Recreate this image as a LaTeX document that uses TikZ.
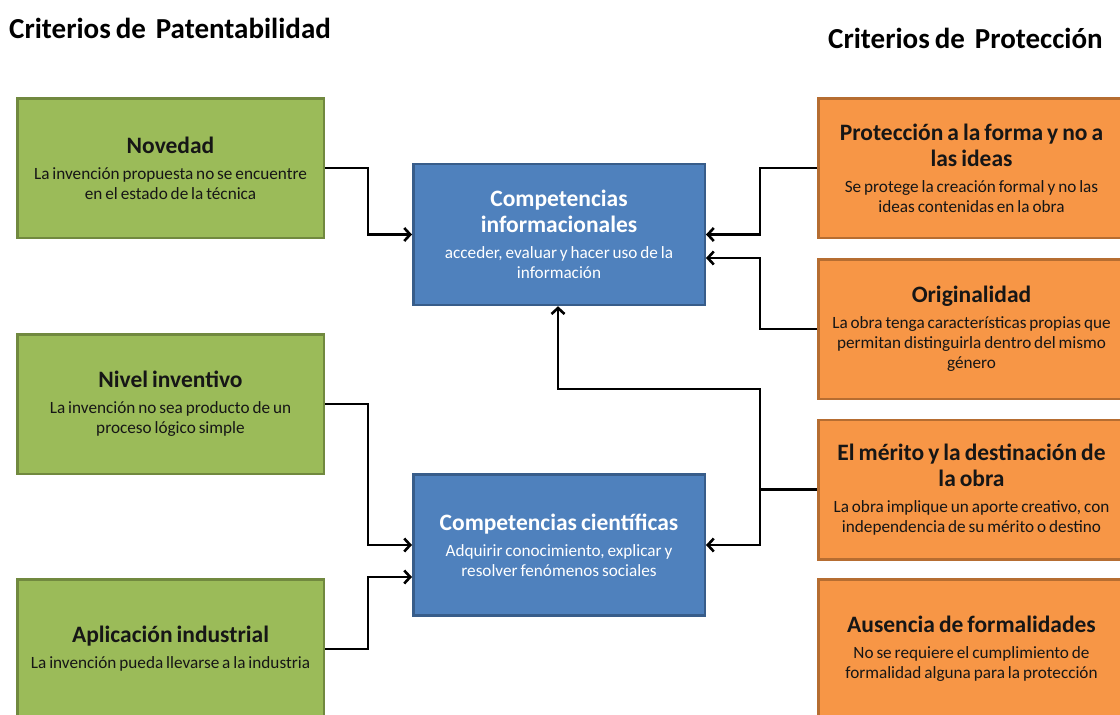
\documentclass[tikz,border=0pt]{standalone}
\usepackage{fontspec}
\setmainfont{Carlito}[WordSpace=0.75]
\usetikzlibrary{arrows.meta}
\definecolor{grfill}{HTML}{9BBB59}
\definecolor{grline}{HTML}{71893F}
\definecolor{blfill}{HTML}{4F81BD}
\definecolor{blline}{HTML}{385D8A}
\definecolor{orfill}{HTML}{F79646}
\definecolor{orline}{HTML}{B66D31}
\definecolor{txtdark}{HTML}{161616}
\newcommand\hd[1]{{\fontsize{23.5}{27}\selectfont\bfseries #1}}
\tikzset{
  box/.style={draw, line width=2.5pt, minimum width=306.5pt, minimum height=139.5pt,
    align=center, inner sep=0pt, font=\fontsize{17.2}{20}\selectfont},
  gbox/.style={box, fill=grfill, draw=grline, text=txtdark},
  bbox/.style={box, fill=blfill, draw=blline, text=white, minimum width=291.5pt, minimum height=141pt},
  obox/.style={box, fill=orfill, draw=orline, text=txtdark},
  arr/.style={draw=black, line width=2.6pt, -{Straight Barb[length=6pt,width=13pt]}},
  ttl/.style={anchor=base west, inner sep=0pt, text=black, font=\fontsize{29}{34}\selectfont\bfseries}
}
\begin{document}
\begin{tikzpicture}[x=1pt,y=-1pt]
\useasboundingbox (0,0) rectangle (1120,715);
\clip (0,0) rectangle (1120,715);
\fill[white] (0,0) rectangle (1120,715);

\node[ttl] (t1) at (9,38) {Criterios de\hspace{5pt} Patentabilidad};
\node[ttl] (t2) at (828,48) {Criterios de\hspace{5pt} Protección};

% green boxes
\node[gbox] (nov) at (170.5,168) {\hd{Novedad}\\[6pt]La invención propuesta no se encuentre\\en el estado de la técnica};
\node[gbox] (niv) at (170.5,404) {\hd{Nivel inventivo}\\[6pt]La invención no sea producto de un\\proceso lógico simple};
\node[gbox] (apl) at (170.5,649) {\hd{Aplicación industrial}\\[6pt]La invención pueda llevarse a la industria};

% blue boxes
\node[bbox] (c1) at (559,234.5) {\hd{Competencias}\\[5pt]\hd{informacionales}\\[6pt]acceder, evaluar y hacer uso de la\\información};
\node[bbox] (c2) at (559,545) {\hd{Competencias científicas}\\[6pt]Adquirir conocimiento, explicar y\\resolver fenómenos sociales};

% orange boxes
\node[obox] (prot) at (971.5,168) {\hd{Protección a la forma y no a}\\[5pt]\hd{las ideas}\\[6pt]Se protege la creación formal y no las\\ideas contenidas en la obra};
\node[obox] (orig) at (971.5,329) {\hd{Originalidad}\\[6pt]La obra tenga características propias que\\permitan distinguirla dentro del mismo\\género};
\node[obox] (mer) at (971.5,489.5) {\hd{El mérito y la destinación de}\\[5pt]\hd{la obra}\\[6pt]La obra implique un aporte creativo, con\\independencia de su mérito o destino};
\node[obox] (aus) at (971.5,649) {\hd{Ausencia de formalidades}\\[6pt]No se requiere el cumplimiento de\\formalidad alguna para la protección};

% connectors
\coordinate (j) at (760,489.5);
\coordinate (k) at (558,389);
\draw[arr] (nov.east) -- ++(43,0) |- (c1.west);
\draw[arr] (niv.east) -- ++(43,0) |- (c2.west);
\draw[arr] (apl.east) -- ++(43,0) |- ([yshift=-32pt]c2.west);
\draw[arr] (prot.west) -- ++(-57,0) |- (c1.east);
\draw[arr] (orig.west) -- ++(-57,0) |- ([yshift=-23.5pt]c1.east);
\draw[arr] (mer.west) -- (j) |- (k) -- (k |- c1.south);
\draw[arr] (j) |- (c2.east);
\end{tikzpicture}
\end{document}
